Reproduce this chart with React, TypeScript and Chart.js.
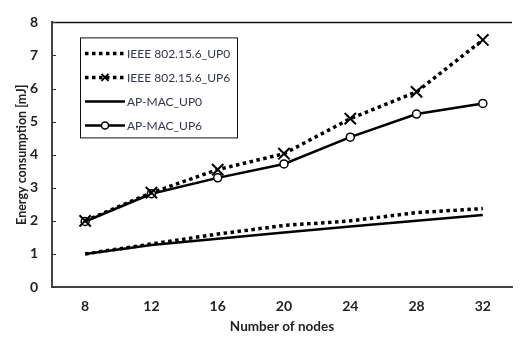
import React, { useEffect, useRef } from "react";
import { Chart, registerables } from "chart.js";

Chart.register(...registerables);

const nodes = [8, 12, 16, 20, 24, 28, 32];
const ieeeUP0 = [1.0, 1.3, 1.6, 1.86, 2.0, 2.25, 2.37];
const ieeeUP6 = [2.0, 2.85, 3.55, 4.03, 5.09, 5.9, 7.47];
const apUP0 = [1.0, 1.27, 1.46, 1.65, 1.83, 2.0, 2.18];
const apUP6 = [1.98, 2.82, 3.3, 3.72, 4.53, 5.23, 5.55];
const yTicks = [0, 1, 2, 3, 4, 5, 6, 7, 8];
const seriesNames = ["IEEE 802.15.6_UP0", "IEEE 802.15.6_UP6", "AP-MAC_UP0", "AP-MAC_UP6"];

const FONT = "Lato, 'Open Sans', sans-serif";

const frameAndLegend = {
  id: "frameAndLegend",
  beforeDatasetsDraw(chart: any) {
    const { ctx, chartArea } = chart;
    const y = chart.scales.y;
    ctx.save();
    ctx.strokeStyle = "#111";
    ctx.lineWidth = 1.5;
    ctx.beginPath();
    ctx.moveTo(chartArea.left, chartArea.top);
    ctx.lineTo(chartArea.right, chartArea.top);
    ctx.stroke();
    ctx.strokeStyle = "#333";
    ctx.lineWidth = 1;
    y.ticks.forEach((t: any, i: number) => {
      const py = Math.round(y.getPixelForTick(i)) + 0.5;
      ctx.beginPath();
      ctx.moveTo(chartArea.left, py);
      ctx.lineTo(chartArea.left + 4, py);
      ctx.stroke();
    });
    ctx.restore();
  },
  afterDatasetsDraw(chart: any) {
    const { ctx, chartArea } = chart;
    const ds = chart.data.datasets;
    const bx = chartArea.left + 28;
    const by = chartArea.top + 15;
    const bw = 157;
    const rowH = 24;
    const bh = rowH * ds.length + 4;
    ctx.save();
    ctx.fillStyle = "#fff";
    ctx.fillRect(bx, by, bw, bh);
    ctx.strokeStyle = "#111";
    ctx.lineWidth = 1;
    ctx.strokeRect(bx + 0.5, by + 0.5, bw, bh);
    ds.forEach((d: any, i: number) => {
      const cy = by + 16 + i * rowH;
      const x0 = bx + 5;
      const x1 = bx + 45;
      ctx.strokeStyle = d.borderColor;
      ctx.lineWidth = d.borderWidth;
      ctx.setLineDash(d.borderDash || []);
      ctx.beginPath();
      ctx.moveTo(x0, cy);
      ctx.lineTo(x1, cy);
      ctx.stroke();
      ctx.setLineDash([]);
      if (d.pointRadius > 0) {
        const mx = (x0 + x1) / 2;
        ctx.lineWidth = d.pointBorderWidth;
        ctx.strokeStyle = d.pointBorderColor;
        ctx.fillStyle = d.pointBackgroundColor;
        ctx.beginPath();
        if (d.pointStyle === "crossRot") {
          const r = 3.5;
          ctx.moveTo(mx - r, cy - r);
          ctx.lineTo(mx + r, cy + r);
          ctx.moveTo(mx + r, cy - r);
          ctx.lineTo(mx - r, cy + r);
          ctx.stroke();
        } else {
          ctx.arc(mx, cy, 3.5, 0, Math.PI * 2);
          ctx.fill();
          ctx.stroke();
        }
      }
      ctx.fillStyle = "#333845";
      ctx.font = `12px ${FONT}`;
      ctx.textBaseline = "middle";
      ctx.textAlign = "left";
      ctx.fillText(d.label, x1 + 2, cy + 0.5);
    });
    ctx.restore();
  },
};

export default function App() {
  const ref = useRef<HTMLCanvasElement | null>(null);
  useEffect(() => {
    document.body.style.margin = "0";
    const canvas = ref.current;
    if (!canvas) return;
    const mk = (arr: number[]) => arr.map((v, i) => ({ x: nodes[i], y: v }));
    const chart = new Chart(canvas, {
      type: "line",
      data: {
        datasets: [
          {
            label: seriesNames[0],
            data: mk(ieeeUP0),
            borderColor: "#000",
            borderWidth: 3.5,
            borderDash: [3.5, 3.5],
            borderCapStyle: "butt",
            pointRadius: 0,
            pointBorderWidth: 0,
            pointBorderColor: "#000",
            pointBackgroundColor: "#000",
          },
          {
            label: seriesNames[1],
            data: mk(ieeeUP6),
            borderColor: "#000",
            borderWidth: 3.5,
            borderDash: [3.5, 3.5],
            borderCapStyle: "butt",
            pointStyle: "crossRot",
            pointRadius: 8,
            pointBorderWidth: 2,
            pointBorderColor: "#000",
            pointBackgroundColor: "#000",
          },
          {
            label: seriesNames[2],
            data: mk(apUP0),
            borderColor: "#000",
            borderWidth: 2.5,
            pointRadius: 0,
            pointBorderWidth: 0,
            pointBorderColor: "#000",
            pointBackgroundColor: "#fff",
          },
          {
            label: seriesNames[3],
            data: mk(apUP6),
            borderColor: "#000",
            borderWidth: 2.5,
            pointStyle: "circle",
            pointRadius: 4,
            pointBorderWidth: 1.5,
            pointBorderColor: "#000",
            pointBackgroundColor: "#fff",
          },
        ] as any,
      },
      options: {
        animation: false,
        responsive: false,
        maintainAspectRatio: false,
        layout: { padding: { top: 12, right: 0, left: 0, bottom: 0 } },
        plugins: { legend: { display: false }, tooltip: { enabled: false } },
        scales: {
          x: {
            type: "linear",
            min: 6,
            max: 33.76,
            afterBuildTicks: (s: any) => {
              s.ticks = nodes.map((v) => ({ value: v }));
            },
            afterFit: (s: any) => {
              s.height = 51;
            },
            grid: { display: false, drawTicks: false },
            border: { display: true, color: "#444", width: 2 },
            ticks: {
              padding: 11,
              color: "#222",
              font: { family: FONT, size: 14, weight: "bold" },
            },
            title: {
              display: true,
              text: "Number of nodes",
              color: "#222",
              font: { family: FONT, size: 13.5, weight: "bold" },
              padding: { top: 0, bottom: 3 },
            },
          },
          y: {
            min: 0,
            max: 8,
            afterBuildTicks: (s: any) => {
              s.ticks = yTicks.map((v) => ({ value: v }));
            },
            afterFit: (s: any) => {
              s.width = 52;
            },
            grid: { display: false, drawTicks: false },
            border: { display: true, color: "#444", width: 2 },
            ticks: {
              padding: 14,
              color: "#222",
              font: { family: FONT, size: 14, weight: "bold" },
            },
            title: {
              display: true,
              text: "Energy consumption [mJ]",
              color: "#222",
              font: { family: FONT, size: 12.5, weight: "bold" },
              padding: { top: 14, bottom: 0 },
            },
          },
        },
      },
      plugins: [frameAndLegend],
    });
    return () => chart.destroy();
  }, []);
  return (
    <div style={{ width: 522, height: 338 }}>
      <canvas ref={ref} width={522} height={338} style={{ display: "block" }} />
    </div>
  );
}
